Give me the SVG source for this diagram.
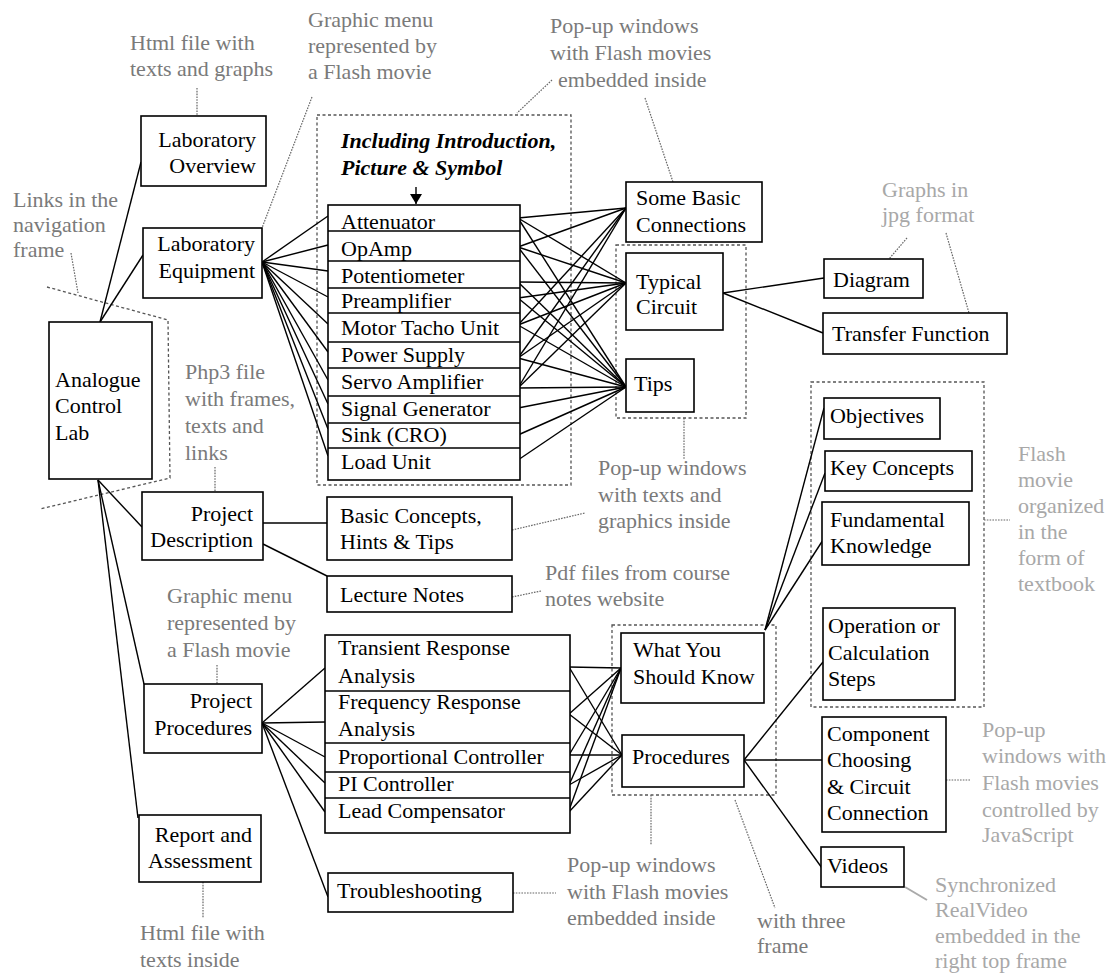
<svg xmlns="http://www.w3.org/2000/svg" width="1114" height="978" viewBox="0 0 1114 978">
<style>
  .box { fill: #fff; stroke: #000; stroke-width: 1.6; }
  .t { font-family: "Liberation Serif", "Times New Roman", serif; font-size: 22px; fill: #000; }
  .end { text-anchor: end; }
  .note { font-family: "Liberation Serif", "Times New Roman", serif; font-size: 22px; fill: #7a7a7a; }
  .light { fill: #a8a8a8; }
  .edge { stroke: #000; stroke-width: 1.4; fill: none; }
  .frame { stroke: #555; stroke-width: 1.3; stroke-dasharray: 3 2.5; fill: none; }
  .lead { stroke: #666; stroke-width: 1.2; stroke-dasharray: 1.6 1.2; fill: none; }
  .sep { stroke: #000; stroke-width: 1.4; }
</style>
<defs>
  <marker id="arrow" viewBox="0 0 10 12" refX="10" refY="6" markerWidth="10" markerHeight="12" markerUnits="userSpaceOnUse" orient="auto">
    <path d="M0,0 L10,6 L0,12 z" fill="#000"/>
  </marker>
</defs>
<rect width="1114" height="978" fill="#fff"/>

<!-- dashed grouping frames -->
<g id="frames">
  <path class="frame" d="M47,287 L168,320 L170,478 L40,509"/>
  <rect class="frame" x="317" y="115" width="254" height="370"/>
  <rect class="frame" x="616" y="245" width="130" height="173"/>
  <rect class="frame" x="811" y="382" width="173" height="325"/>
  <rect class="frame" x="612" y="625" width="164" height="170"/>
</g>

<!-- connectors -->
<g id="connectors">
  <!-- hub links -->
  <line class="edge" x1="100" y1="322" x2="141" y2="162"/>
  <line class="edge" x1="100" y1="322" x2="143" y2="255"/>
  <line class="edge" x1="98" y1="480" x2="142" y2="527"/>
  <line class="edge" x1="98" y1="480" x2="144" y2="684"/>
  <line class="edge" x1="98" y1="480" x2="138" y2="818"/>

  <!-- Laboratory Equipment to devices -->
  <line class="edge" x1="262" y1="262" x2="328" y2="216"/>
  <line class="edge" x1="262" y1="262" x2="328" y2="245"/>
  <line class="edge" x1="262" y1="262" x2="328" y2="271"/>
  <line class="edge" x1="262" y1="262" x2="328" y2="297"/>
  <line class="edge" x1="262" y1="262" x2="328" y2="324"/>
  <line class="edge" x1="262" y1="262" x2="328" y2="352"/>
  <line class="edge" x1="262" y1="262" x2="328" y2="380"/>
  <line class="edge" x1="262" y1="262" x2="328" y2="404"/>
  <line class="edge" x1="262" y1="262" x2="328" y2="429"/>
  <line class="edge" x1="262" y1="262" x2="328" y2="456"/>

  <!-- devices to pop-up windows -->
  <line class="edge" x1="518" y1="218" x2="626" y2="208"/>
  <line class="edge" x1="518" y1="218" x2="626" y2="283"/>
  <line class="edge" x1="518" y1="218" x2="626" y2="387"/>
  <line class="edge" x1="518" y1="247" x2="626" y2="208"/>
  <line class="edge" x1="518" y1="247" x2="626" y2="283"/>
  <line class="edge" x1="518" y1="247" x2="626" y2="387"/>
  <line class="edge" x1="518" y1="282" x2="626" y2="283"/>
  <line class="edge" x1="518" y1="282" x2="626" y2="387"/>
  <line class="edge" x1="518" y1="298" x2="626" y2="283"/>
  <line class="edge" x1="518" y1="298" x2="626" y2="387"/>
  <line class="edge" x1="518" y1="325" x2="626" y2="208"/>
  <line class="edge" x1="518" y1="325" x2="626" y2="283"/>
  <line class="edge" x1="518" y1="325" x2="626" y2="387"/>
  <line class="edge" x1="518" y1="358" x2="626" y2="208"/>
  <line class="edge" x1="518" y1="358" x2="626" y2="283"/>
  <line class="edge" x1="518" y1="358" x2="626" y2="387"/>
  <line class="edge" x1="518" y1="388" x2="626" y2="208"/>
  <line class="edge" x1="518" y1="388" x2="626" y2="283"/>
  <line class="edge" x1="518" y1="388" x2="626" y2="387"/>
  <line class="edge" x1="518" y1="408" x2="626" y2="387"/>
  <line class="edge" x1="518" y1="435" x2="626" y2="387"/>
  <line class="edge" x1="518" y1="460" x2="626" y2="387"/>

  <!-- Typical Circuit to graphs -->
  <line class="edge" x1="723" y1="293" x2="824" y2="278"/>
  <line class="edge" x1="723" y1="293" x2="823" y2="333"/>

  <!-- Project Description -->
  <line class="edge" x1="263" y1="523" x2="327" y2="523"/>
  <line class="edge" x1="263" y1="544" x2="327" y2="576"/>

  <!-- Project Procedures to procedure list -->
  <line class="edge" x1="262" y1="723" x2="325" y2="668"/>
  <line class="edge" x1="262" y1="723" x2="325" y2="722"/>
  <line class="edge" x1="262" y1="723" x2="325" y2="757"/>
  <line class="edge" x1="262" y1="723" x2="325" y2="783"/>
  <line class="edge" x1="262" y1="723" x2="325" y2="812"/>
  <line class="edge" x1="262" y1="723" x2="328" y2="897"/>

  <!-- procedure list to frames -->
  <line class="edge" x1="569" y1="667" x2="621" y2="668"/>
  <line class="edge" x1="569" y1="667" x2="622" y2="755"/>
  <line class="edge" x1="569" y1="714" x2="621" y2="668"/>
  <line class="edge" x1="569" y1="714" x2="622" y2="755"/>
  <line class="edge" x1="569" y1="755" x2="621" y2="668"/>
  <line class="edge" x1="569" y1="755" x2="622" y2="755"/>
  <line class="edge" x1="569" y1="785" x2="621" y2="668"/>
  <line class="edge" x1="569" y1="785" x2="622" y2="755"/>
  <line class="edge" x1="568" y1="813" x2="621" y2="668"/>
  <line class="edge" x1="568" y1="813" x2="622" y2="755"/>

  <!-- What You Should Know to textbook pages -->
  <line class="edge" x1="765" y1="630" x2="824" y2="408"/>
  <line class="edge" x1="765" y1="630" x2="825" y2="473"/>
  <line class="edge" x1="765" y1="630" x2="823" y2="540"/>

  <!-- Procedures to steps -->
  <line class="edge" x1="744" y1="760" x2="823" y2="662"/>
  <line class="edge" x1="744" y1="760" x2="822" y2="760"/>
  <line class="edge" x1="744" y1="760" x2="822" y2="868"/>

  <!-- arrow into the device list -->
  <line class="edge" x1="416" y1="187" x2="416" y2="204" marker-end="url(#arrow)"/>
</g>

<!-- annotation leaders -->
<g id="leaders">
  <line class="lead" x1="197" y1="88" x2="197" y2="116"/>
  <line class="lead" x1="312" y1="97" x2="262" y2="228"/>
  <line class="lead" x1="71" y1="253" x2="78" y2="293"/>
  <line class="lead" x1="552" y1="80" x2="517" y2="113"/>
  <line class="lead" x1="645" y1="98" x2="673" y2="182"/>
  <line class="lead" x1="907" y1="238" x2="889" y2="259"/>
  <line class="lead" x1="946" y1="233" x2="969" y2="313"/>
  <line class="lead" x1="215" y1="467" x2="215" y2="492"/>
  <line class="lead" x1="684" y1="418" x2="684" y2="460"/>
  <line class="lead" x1="512" y1="530" x2="585" y2="513"/>
  <line class="lead" x1="512" y1="597" x2="541" y2="591"/>
  <line class="lead" x1="984" y1="520" x2="1010" y2="520"/>
  <line class="lead" x1="217" y1="665" x2="217" y2="684"/>
  <line class="lead" x1="651" y1="795" x2="651" y2="845"/>
  <line class="lead" x1="735" y1="800" x2="775" y2="908"/>
  <line class="lead" x1="946" y1="780" x2="970" y2="780"/>
  <line class="lead" x1="513" y1="893" x2="556" y2="893"/>
  <line class="lead" x1="203" y1="882" x2="203" y2="918"/>
  <line x1="905" y1="887" x2="927" y2="900" stroke="#aaa" stroke-width="2"/>
</g>

<!-- main nodes -->
<g id="analogue-control-lab">
  <rect class="box" x="49" y="322" width="103" height="157"/>
  <text class="t" x="55" y="387">Analogue</text>
  <text class="t" x="55" y="413">Control</text>
  <text class="t" x="55" y="440">Lab</text>
</g>
<g id="laboratory-overview">
  <rect class="box" x="141" y="116" width="125" height="70"/>
  <text class="t end" x="256" y="147">Laboratory</text>
  <text class="t end" x="256" y="173">Overview</text>
</g>
<g id="laboratory-equipment">
  <rect class="box" x="143" y="228" width="119" height="70"/>
  <text class="t end" x="255" y="251">Laboratory</text>
  <text class="t end" x="255" y="278">Equipment</text>
</g>
<g id="project-description">
  <rect class="box" x="142" y="492" width="121" height="68"/>
  <text class="t end" x="253" y="521">Project</text>
  <text class="t end" x="253" y="547">Description</text>
</g>
<g id="project-procedures">
  <rect class="box" x="144" y="684" width="118" height="69"/>
  <text class="t end" x="252" y="708">Project</text>
  <text class="t end" x="252" y="735">Procedures</text>
</g>
<g id="report-assessment">
  <rect class="box" x="139" y="815" width="122" height="67"/>
  <text class="t end" x="252" y="842">Report and</text>
  <text class="t end" x="252" y="868">Assessment</text>
</g>

<!-- equipment list -->
<g id="equipment-caption">
  <text class="t" x="341" y="148" font-weight="bold" font-style="italic">Including Introduction,</text>
  <text class="t" x="341" y="175" font-weight="bold" font-style="italic">Picture &amp; Symbol</text>
</g>
<g id="equipment-list">
  <rect class="box" x="328" y="205" width="192" height="275"/>
  <line class="sep" x1="328" y1="231" x2="520" y2="231"/>
  <line class="sep" x1="328" y1="261" x2="520" y2="261"/>
  <line class="sep" x1="328" y1="288" x2="520" y2="288"/>
  <line class="sep" x1="328" y1="313" x2="520" y2="313"/>
  <line class="sep" x1="328" y1="342" x2="520" y2="342"/>
  <line class="sep" x1="328" y1="368" x2="520" y2="368"/>
  <line class="sep" x1="328" y1="396" x2="520" y2="396"/>
  <line class="sep" x1="328" y1="423" x2="520" y2="423"/>
  <line class="sep" x1="328" y1="448" x2="520" y2="448"/>
  <text class="t" x="341" y="229">Attenuator</text>
  <text class="t" x="341" y="256">OpAmp</text>
  <text class="t" x="341" y="283">Potentiometer</text>
  <text class="t" x="341" y="308">Preamplifier</text>
  <text class="t" x="341" y="335">Motor  Tacho Unit</text>
  <text class="t" x="341" y="362">Power Supply</text>
  <text class="t" x="341" y="389">Servo Amplifier</text>
  <text class="t" x="341" y="416">Signal Generator</text>
  <text class="t" x="341" y="442">Sink (CRO)</text>
  <text class="t" x="341" y="469">Load Unit</text>
</g>

<g id="some-basic-connections">
  <rect class="box" x="626" y="182" width="136" height="60"/>
  <text class="t" x="636" y="205">Some Basic</text>
  <text class="t" x="636" y="232">Connections</text>
</g>
<g id="typical-circuit">
  <rect class="box" x="626" y="253" width="97" height="77"/>
  <text class="t" x="636" y="289">Typical</text>
  <text class="t" x="636" y="314">Circuit</text>
</g>
<g id="tips">
  <rect class="box" x="626" y="359" width="68" height="53"/>
  <text class="t" x="634" y="391">Tips</text>
</g>
<g id="diagram">
  <rect class="box" x="824" y="259" width="99" height="39"/>
  <text class="t" x="833" y="287">Diagram</text>
</g>
<g id="transfer-function">
  <rect class="box" x="823" y="313" width="184" height="41"/>
  <text class="t" x="832" y="341">Transfer Function</text>
</g>

<g id="basic-concepts">
  <rect class="box" x="327" y="497" width="185" height="63"/>
  <text class="t" x="340" y="523">Basic Concepts,</text>
  <text class="t" x="340" y="549">Hints &amp; Tips</text>
</g>
<g id="lecture-notes">
  <rect class="box" x="327" y="576" width="185" height="36"/>
  <text class="t" x="340" y="602">Lecture Notes</text>
</g>

<g id="procedure-list">
  <rect class="box" x="325" y="635" width="245" height="198"/>
  <line class="sep" x1="325" y1="691" x2="570" y2="691"/>
  <line class="sep" x1="325" y1="743" x2="570" y2="743"/>
  <line class="sep" x1="325" y1="772" x2="570" y2="772"/>
  <line class="sep" x1="325" y1="798" x2="570" y2="798"/>
  <text class="t" x="338" y="655">Transient Response</text>
  <text class="t" x="338" y="683">Analysis</text>
  <text class="t" x="338" y="709">Frequency Response</text>
  <text class="t" x="338" y="736">Analysis</text>
  <text class="t" x="338" y="764">Proportional Controller</text>
  <text class="t" x="338" y="791">PI Controller</text>
  <text class="t" x="338" y="818">Lead Compensator</text>
</g>
<g id="troubleshooting">
  <rect class="box" x="328" y="873" width="185" height="39"/>
  <text class="t" x="337" y="898">Troubleshooting</text>
</g>

<g id="what-you-should-know">
  <rect class="box" x="621" y="633" width="143" height="70"/>
  <text class="t" x="633" y="657">What You</text>
  <text class="t" x="633" y="684">Should Know</text>
</g>
<g id="procedures">
  <rect class="box" x="622" y="735" width="122" height="52"/>
  <text class="t" x="632" y="764">Procedures</text>
</g>

<g id="objectives">
  <rect class="box" x="824" y="398" width="116" height="41"/>
  <text class="t" x="830" y="423">Objectives</text>
</g>
<g id="key-concepts">
  <rect class="box" x="825" y="451" width="147" height="40"/>
  <text class="t" x="830" y="475">Key Concepts</text>
</g>
<g id="fundamental-knowledge">
  <rect class="box" x="822" y="502" width="147" height="63"/>
  <text class="t" x="830" y="527">Fundamental</text>
  <text class="t" x="830" y="553">Knowledge</text>
</g>
<g id="operation-steps">
  <rect class="box" x="823" y="608" width="132" height="92"/>
  <text class="t" x="828" y="633">Operation or</text>
  <text class="t" x="828" y="660">Calculation</text>
  <text class="t" x="828" y="686">Steps</text>
</g>
<g id="component-choosing">
  <rect class="box" x="822" y="717" width="124" height="115"/>
  <text class="t" x="827" y="741">Component</text>
  <text class="t" x="827" y="767">Choosing</text>
  <text class="t" x="827" y="794">&amp; Circuit</text>
  <text class="t" x="827" y="820">Connection</text>
</g>
<g id="videos">
  <rect class="box" x="821" y="847" width="83" height="40"/>
  <text class="t" x="827" y="873">Videos</text>
</g>

<!-- annotations -->
<g id="notes">
  <text class="note" x="130" y="50">Html file with</text>
  <text class="note" x="130" y="76">texts and graphs</text>

  <text class="note" x="308" y="27">Graphic menu</text>
  <text class="note" x="308" y="53">represented by</text>
  <text class="note" x="308" y="79">a Flash movie</text>

  <text class="note" x="550" y="33">Pop-up windows</text>
  <text class="note" x="550" y="60">with Flash movies</text>
  <text class="note" x="558" y="87">embedded inside</text>

  <text class="note" x="13" y="207">Links in the</text>
  <text class="note" x="13" y="232">navigation</text>
  <text class="note" x="13" y="257">frame</text>

  <text class="note light" x="882" y="197">Graphs in</text>
  <text class="note light" x="882" y="222">jpg format</text>

  <text class="note" x="185" y="379">Php3 file</text>
  <text class="note" x="185" y="406">with frames,</text>
  <text class="note" x="185" y="433">texts and</text>
  <text class="note" x="185" y="460">links</text>

  <text class="note" x="598" y="475">Pop-up windows</text>
  <text class="note" x="598" y="502">with texts and</text>
  <text class="note" x="598" y="528">graphics inside</text>

  <text class="note" x="545" y="580">Pdf files from course</text>
  <text class="note" x="545" y="606">notes  website</text>

  <text class="note light" x="1018" y="461">Flash</text>
  <text class="note light" x="1018" y="487">movie</text>
  <text class="note light" x="1018" y="513">organized</text>
  <text class="note light" x="1018" y="539">in the</text>
  <text class="note light" x="1018" y="565">form of</text>
  <text class="note light" x="1018" y="591">textbook</text>

  <text class="note" x="167" y="603">Graphic menu</text>
  <text class="note" x="167" y="630">represented by</text>
  <text class="note" x="167" y="657">a Flash movie</text>

  <text class="note light" x="982" y="737">Pop-up</text>
  <text class="note light" x="982" y="763">windows with</text>
  <text class="note light" x="982" y="790">Flash movies</text>
  <text class="note light" x="982" y="817">controlled by</text>
  <text class="note light" x="982" y="842">JavaScript</text>

  <text class="note" x="567" y="872">Pop-up windows</text>
  <text class="note" x="567" y="899">with Flash movies</text>
  <text class="note" x="567" y="925">embedded inside</text>

  <text class="note" x="757" y="928">with three</text>
  <text class="note" x="757" y="953">frame</text>

  <text class="note light" x="935" y="892">Synchronized</text>
  <text class="note light" x="935" y="917">RealVideo</text>
  <text class="note light" x="935" y="943">embedded in the</text>
  <text class="note light" x="935" y="968">right top frame</text>

  <text class="note" x="140" y="940">Html file with</text>
  <text class="note" x="140" y="967">texts inside</text>
</g>
</svg>
